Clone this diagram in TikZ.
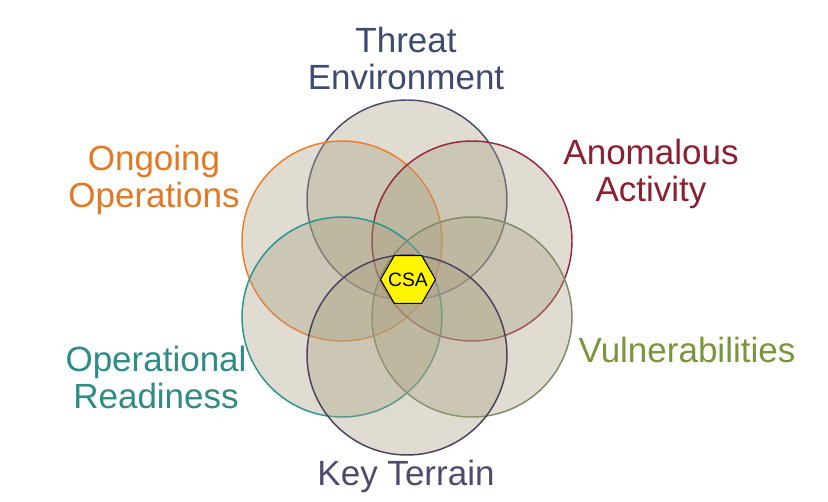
\documentclass[tikz,border=0pt]{standalone}
\usepackage{fontspec}
\setmainfont{Liberation Sans}
\usetikzlibrary{shapes.geometric}
\definecolor{cfill}{RGB}{170,160,130}
\definecolor{cthreat}{RGB}{61,75,115}
\definecolor{cthreatl}{RGB}{70,78,110}
\definecolor{congo}{RGB}{228,120,35}
\definecolor{congol}{RGB}{238,125,40}
\definecolor{canom}{RGB}{140,32,48}
\definecolor{canoml}{RGB}{150,40,60}
\definecolor{cvuln}{RGB}{122,150,60}
\definecolor{cvulnl}{RGB}{125,140,100}
\definecolor{cready}{RGB}{46,139,133}
\definecolor{creadyl}{RGB}{40,150,145}
\definecolor{ckey}{RGB}{80,74,110}
\definecolor{ckeyl}{RGB}{75,65,95}
\definecolor{chex}{RGB}{255,245,0}
\tikzset{
  ring/.style={circle, draw, line width=1.1pt, fill=cfill, fill opacity=0.36, draw opacity=1, minimum size=150pt, inner sep=0pt},
  lbl/.style={font=\fontsize{26.25}{27.75}\selectfont, align=center, inner sep=0pt, anchor=base},
  hexline/.style={draw=black, line width=0.8pt, fill=chex, line join=round},
  hextext/.style={inner sep=0pt, font=\fontsize{14.5}{16}\selectfont}
}
\begin{document}
\begin{tikzpicture}[x=0.75pt,y=-0.75pt]
\useasboundingbox (0,0) rectangle (828,502);
\fill[white] (0,0) rectangle (828,502);
\node[ring, draw=cthreatl] (c1) at (407,200) {};
\node[ring, draw=congol] (c2) at (342,241) {};
\node[ring, draw=canoml] (c3) at (472,241) {};
\node[ring, draw=creadyl] (c4) at (342,317) {};
\node[ring, draw=cvulnl] (c5) at (472,317) {};
\node[ring, draw=ckeyl] (c6) at (407,355) {};
\path[hexline] (380.5,279.5) -- (394.25,255.7) -- (421.75,255.7) -- (435.5,279.5) -- (421.75,303.3) -- (394.25,303.3) -- cycle;
\node[hextext] (csa) at (408,279.5) {CSA};
\node[lbl, text=cthreat] (t1) at (406,90) {Threat\\Environment};
\node[lbl, text=congo] (t2) at (154,208) {Ongoing\\Operations};
\node[lbl, text=canom] (t3) at (651,202) {Anomalous\\Activity};
\node[lbl, text=cready] (t4) at (156,408) {Operational\\Readiness};
\node[lbl, text=cvuln] (t5) at (687,362) {Vulnerabilities};
\node[lbl, text=ckey] (t6) at (406,485) {Key Terrain};
\end{tikzpicture}
\end{document}
